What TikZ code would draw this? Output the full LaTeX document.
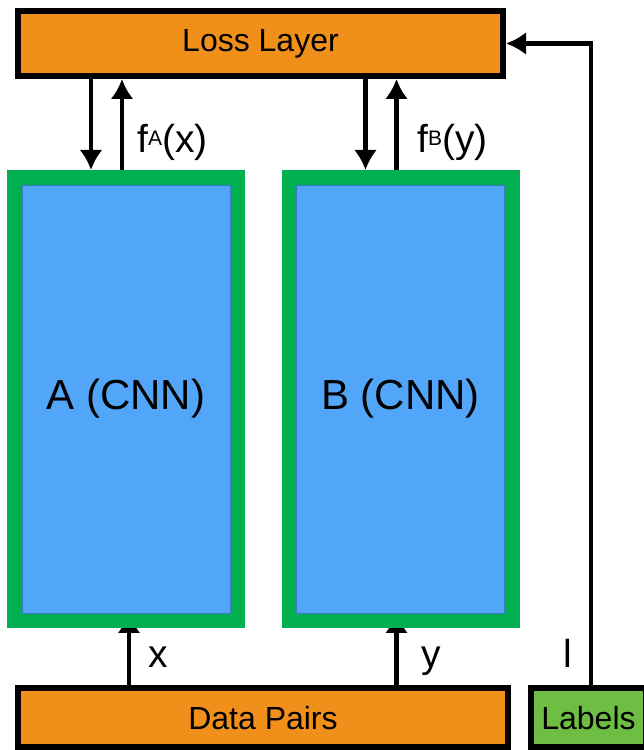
\documentclass[tikz,border=0pt]{standalone}
\usepackage{fontspec}
\setmainfont{Liberation Sans}
\usetikzlibrary{positioning,arrows.meta,backgrounds}
\definecolor{lossorange}{HTML}{F0901A}
\definecolor{cnngreen}{HTML}{00B050}
\definecolor{cnnblue}{HTML}{52A6FA}
\definecolor{labelgreen}{HTML}{6FBE44}
\definecolor{blueedge}{HTML}{3C78C8}

\begin{document}
\begin{tikzpicture}[x=1pt,y=1pt,
		blackbox/.style={draw=black,line width=6pt,inner sep=0pt,font=\fontsize{32}{32}\selectfont},
		cnn/.style={draw=cnngreen,fill=cnnblue,line width=15pt,minimum width=223pt,minimum height=443pt,inner sep=0pt,font=\fontsize{42}{42}\selectfont},
		arr/.style={line width=4.5pt,-{Latex[length=20pt,width=23pt]}},
		lbl/.style={font=\fontsize{39}{39}\selectfont,inner sep=0pt}]
				\useasboundingbox (0,0) rectangle (644,750);
				% boxes
				\node[blackbox,fill=lossorange,minimum width=485pt,minimum height=65pt] (loss) at (260.5,706.5) {Loss Layer};
				\node[cnn] (cnnA) at (126,351) {A (CNN)};
				\node[cnn] (cnnB) at (400.5,351) {B (CNN)};
				\node[blackbox,fill=lossorange,minimum width=490pt,minimum height=59pt] (data) at (263,32) {Data Pairs};
				\node[blackbox,fill=labelgreen,minimum width=115pt,minimum height=59pt] (labels) at (588.5,32) {Labels};
				\foreach \n in {cnnA,cnnB}
					\draw[blueedge,line width=0.8pt] ([shift={(15,-15)}]\n.north west) rectangle ([shift={(-15,15)}]\n.south east);
				% features up, gradients down
				\foreach \n in {cnnA,cnnB} {
					\draw[arr] ([xshift=84pt]\n.north west |- loss.south) -- ([xshift=84pt]\n.north west);
					\draw[arr] ([xshift=115pt]\n.north west) -- ([xshift=115pt]\n.north west |- loss.south);
				}
				\node[lbl,anchor=base west] (fa) at (137,597) {f\raisebox{7pt}{\fontsize{21}{21}\selectfont A}(x)};
				\node[lbl,anchor=base west] (fb) at (417,597) {f\raisebox{7pt}{\fontsize{21}{21}\selectfont B}(y)};
				% inputs
				\begin{scope}[on background layer]
					\draw[arr] ([xshift=122pt]cnnA.south west |- data.north) -- ([xshift=122pt,yshift=15pt]cnnA.south west);
					\draw[arr] ([xshift=115pt]cnnB.south west |- data.north) -- ([xshift=115pt,yshift=15pt]cnnB.south west);
				\end{scope}
				\node[lbl,anchor=base west] (lx) at (148,82) {x};
				\node[lbl,anchor=base west] (ly) at (421,82) {y};
				\node[lbl,anchor=base west] (ll) at (563,82) {l};
				\draw[arr] ([xshift=2.5pt]labels.north) |- (loss.east);
\end{tikzpicture}
\end{document}
